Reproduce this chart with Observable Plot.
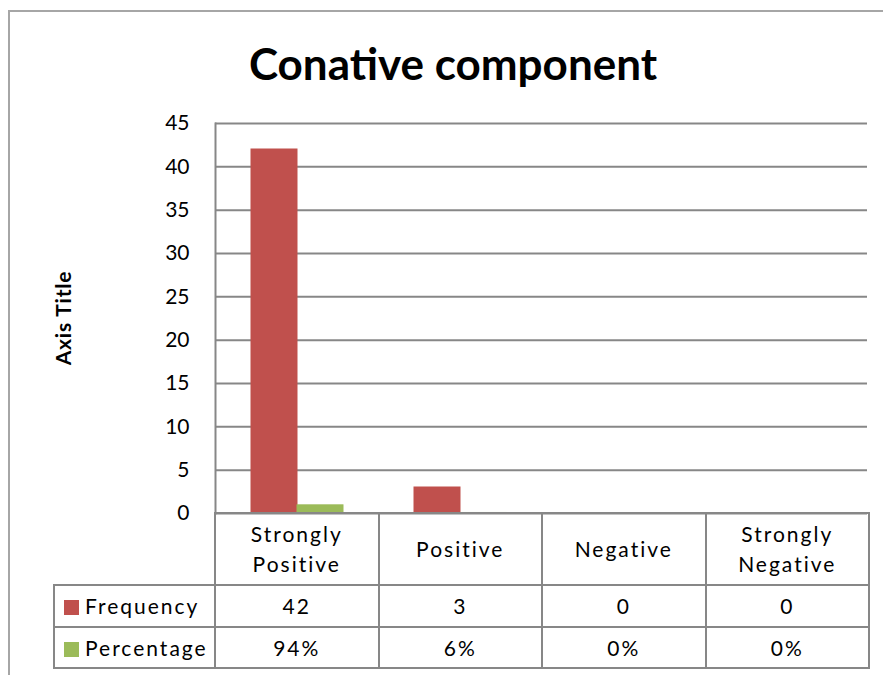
<!DOCTYPE html>
<html>
<head>
<meta charset="utf-8">
<script src="https://cdn.jsdelivr.net/npm/d3@7"></script>
<script src="https://cdn.jsdelivr.net/npm/@observablehq/plot@0.6"></script>
<style>
  html, body { margin: 0; padding: 0; background: #fff; }
  #wrap { position: relative; width: 883px; height: 675px; overflow: hidden; font-family: Lato, "Open Sans", sans-serif; color: #000; }
  #outer { position: absolute; left: 8px; top: 10px; right: -4px; bottom: -4px; border-top: 2px solid #a6a6a6; border-left: 2px solid #a6a6a6; }
  #title { position: absolute; left: 0; width: 906px; top: 41px; text-align: center; font-weight: 700; font-size: 44px; letter-spacing: 0px; line-height: 1; }
  #ytitle { position: absolute; left: 62px; top: 318px; transform: translate(-50%, -50%) rotate(-90deg); font-weight: 700; font-size: 21px; white-space: nowrap; letter-spacing: 0.8px; }
  #chart { position: absolute; left: 0; top: 0; }
  #tbl { position: absolute; left: 53px; top: 512px; border-collapse: collapse; font-size: 21px; letter-spacing: 2px; }
  #tbl td { border: 2px solid #878787; text-align: center; padding: 0; line-height: 1.3; }
  #tbl tr.cats td { line-height: 1.45; }
  #tbl td.blank { border-top: none; border-left: none; }
  #tbl td.legend { text-align: left; padding-left: 9px; white-space: nowrap; }
  .sw { display: inline-block; width: 15px; height: 15px; margin-right: 6px; vertical-align: -1px; }
</style>
</head>
<body>
<div id="wrap">
  <div id="outer"></div>
  <div id="title"></div>
  <div id="ytitle"></div>
  <div id="chart"></div>
  <table id="tbl"></table>
</div>
<script>
const chartTitle = "Conative component";
const yAxisTitle = "Axis Title";
const categories = ["Strongly Positive", "Positive", "Negative", "Strongly Negative"];
const series = ["Frequency", "Percentage"];
const frequency = [42, 3, 0, 0];
const percentage = [0.94, 0.06, 0, 0];
const frequencyLabels = ["42", "3", "0", "0"];
const percentageLabels = ["94%", "6%", "0%", "0%"];
const yTicks = [0, 5, 10, 15, 20, 25, 30, 35, 40, 45];
const colors = ["#C0504D", "#9BBB59"];

const rows = categories.flatMap((c, i) => [
  {category: c, series: series[0], value: frequency[i]},
  {category: c, series: series[1], value: percentage[i]}
]);

document.getElementById("title").textContent = chartTitle;
document.getElementById("ytitle").textContent = yAxisTitle;

const gridColor = "#878787";

const chart = Plot.plot({
  width: 883,
  height: 675,
  marginTop: 123,
  marginBottom: 162,
  marginLeft: 214,
  marginRight: 16,
  style: {fontFamily: "Lato, 'Open Sans', sans-serif", background: "transparent", color: "#000"},
  fx: {domain: categories, padding: 0, axis: null},
  x: {domain: series, paddingInner: 0, paddingOuter: 0.75, axis: null},
  y: {domain: [0, 45], axis: null},
  color: {domain: series, range: colors},
  marks: [
    Plot.ruleY(yTicks, {stroke: gridColor, strokeWidth: 2}),
    Plot.frame({anchor: "left", fx: [categories[0]], stroke: gridColor, strokeWidth: 2}),
    Plot.barY(rows, {fx: "category", x: "series", y: "value", fill: "series", stroke: "series", strokeWidth: 1}),
    Plot.axisY({ticks: yTicks, tickSize: 0, tickPadding: 26, fontSize: 21, label: null, fill: "#000"})
  ]
});
document.getElementById("chart").appendChild(chart);

// data table below the plot
const tbl = document.getElementById("tbl");
const colW = 163.5;
let html = '<colgroup><col style="width:161px">' + categories.map(() => `<col style="width:${colW}px">`).join("") + '</colgroup>';
html += '<tr class="cats" style="height:72px"><td class="blank"></td>' + categories.map(c => `<td>${c.replace(" ", "<br>")}</td>`).join("") + '</tr>';
html += `<tr style="height:42px"><td class="legend"><span class="sw" style="background:${colors[0]}"></span>${series[0]}</td>` + frequencyLabels.map(v => `<td>${v}</td>`).join("") + '</tr>';
html += `<tr style="height:41px"><td class="legend"><span class="sw" style="background:${colors[1]}"></span>${series[1]}</td>` + percentageLabels.map(v => `<td>${v}</td>`).join("") + '</tr>';
tbl.innerHTML = html;
tbl.style.tableLayout = "fixed";
</script>
</body>
</html>
